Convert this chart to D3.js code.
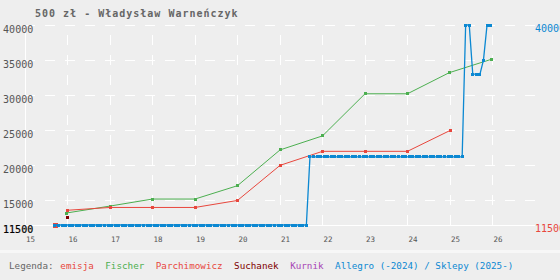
<!DOCTYPE html>
<html>
<head>
<meta charset="utf-8">
<script src="https://cdn.jsdelivr.net/npm/d3@7"></script>
<style>
  html, body { margin: 0; padding: 0; background: #eeeeee; }
  svg { display: block; }
</style>
</head>
<body>
<script>
// ---------- DATA ----------
const titleText = "500 zł - Władysław Warneńczyk";
const yTickValues = [15000, 20000, 25000, 30000, 35000, 40000];
const yMinValue = 11500;
const yMaxValue = 40000;
const xTickYears = [2015, 2016, 2017, 2018, 2019, 2020, 2021, 2022, 2023, 2024, 2025, 2026];

const emisjaDates = ["2015-09-24"];
const emisjaValues = [11500];

const fischerDates = ["2015-12-20", "2017-01-01", "2018-01-01", "2019-01-01", "2020-01-01", "2021-01-01",
                      "2022-01-01", "2023-01-01", "2024-01-01", "2024-12-24", "2025-12-20"];
const fischerValues = [13200, 14200, 15200, 15200, 17100, 22200, 24200, 30200, 30200, 33200, 35100];

const parchimowiczDates = ["2016-01-01", "2017-01-01", "2018-01-01", "2019-01-01", "2020-01-01",
                           "2021-01-01", "2022-01-01", "2023-01-01", "2024-01-01", "2025-01-05"];
const parchimowiczValues = [13600, 14000, 14000, 14000, 15000, 20000, 22000, 22000, 22000, 25000];

const suchanekDates = ["2016-01-05"];
const suchanekValues = [12500];

const kurnikDates = [];
const kurnikValues = [];

const allegroMonths = [
  "2015-09","2015-10","2015-11","2015-12",
  "2016-01","2016-02","2016-03","2016-04","2016-05","2016-06","2016-07","2016-08","2016-09","2016-10","2016-11","2016-12",
  "2017-01","2017-02","2017-03","2017-04","2017-05","2017-06","2017-07","2017-08","2017-09","2017-10","2017-11","2017-12",
  "2018-01","2018-02","2018-03","2018-04","2018-05","2018-06","2018-07","2018-08","2018-09","2018-10","2018-11","2018-12",
  "2019-01","2019-02","2019-03","2019-04","2019-05","2019-06","2019-07","2019-08","2019-09","2019-10","2019-11","2019-12",
  "2020-01","2020-02","2020-03","2020-04","2020-05","2020-06","2020-07","2020-08","2020-09","2020-10","2020-11","2020-12",
  "2021-01","2021-02","2021-03","2021-04","2021-05","2021-06","2021-07","2021-08","2021-09","2021-10","2021-11","2021-12",
  "2022-01","2022-02","2022-03","2022-04","2022-05","2022-06","2022-07","2022-08","2022-09","2022-10","2022-11","2022-12",
  "2023-01","2023-02","2023-03","2023-04","2023-05","2023-06","2023-07","2023-08","2023-09","2023-10","2023-11","2023-12",
  "2024-01","2024-02","2024-03","2024-04","2024-05","2024-06","2024-07","2024-08","2024-09","2024-10","2024-11","2024-12",
  "2025-01","2025-02","2025-03","2025-04","2025-05","2025-06","2025-07","2025-08","2025-09","2025-10","2025-11","2025-12"
];
const allegroValues = [
  11500, 11500, 11500, 11500,
  11500, 11500, 11500, 11500, 11500, 11500, 11500, 11500, 11500, 11500, 11500, 11500,
  11500, 11500, 11500, 11500, 11500, 11500, 11500, 11500, 11500, 11500, 11500, 11500,
  11500, 11500, 11500, 11500, 11500, 11500, 11500, 11500, 11500, 11500, 11500, 11500,
  11500, 11500, 11500, 11500, 11500, 11500, 11500, 11500, 11500, 11500, 11500, 11500,
  11500, 11500, 11500, 11500, 11500, 11500, 11500, 11500, 11500, 11500, 11500, 11500,
  11500, 11500, 11500, 11500, 11500, 11500, 11500, 11500, 21200, 21200, 21200, 21200,
  21200, 21200, 21200, 21200, 21200, 21200, 21200, 21200, 21200, 21200, 21200, 21200,
  21200, 21200, 21200, 21200, 21200, 21200, 21200, 21200, 21200, 21200, 21200, 21200,
  21200, 21200, 21200, 21200, 21200, 21200, 21200, 21200, 21200, 21200, 21200, 21200,
  21200, 21200, 21200, 21200, 40000, 40000, 33000, 33000, 33000, 35000, 40000, 40000
];

const legendLabels = ["emisja", "Fischer", "Parchimowicz", "Suchanek", "Kurnik", "Allegro (-2024) / Sklepy (2025-)"];
const legendColors = ["#e8473d", "#4caf50", "#e8473d", "#800000", "#a845b5", "#0b88d2"];

// ---------- CHART ----------
const W = 560, H = 280;
const plot = { left: 25, right: 535, top: 25, bottom: 225 };
const parseDay = d3.timeParse("%Y-%m-%d");
const parseMonth = s => { const d = d3.timeParse("%Y-%m")(s); return d3.timeDay.offset(d, 14); };

const svg = d3.select("body").append("svg").attr("width", W).attr("height", H);
svg.append("rect").attr("width", W).attr("height", H).attr("fill", "#eeeeee");
svg.append("rect").attr("x", 0).attr("y", 250).attr("width", W).attr("height", 3).attr("fill", "#f7f7f7");

const x = d3.scaleTime()
  .domain([new Date(2015, 0, 1), new Date(2027, 0, 1)])
  .range([plot.left, plot.right]);
const y = d3.scaleLinear().domain([yMinValue, yMaxValue]).range([plot.bottom, plot.top]);

const mono = "'DejaVu Sans Mono', 'Liberation Mono', monospace";

// title
svg.append("text")
  .attr("x", 35).attr("y", 16.7)
  .attr("font-family", mono).attr("font-size", 10).attr("font-weight", "bold")
  .attr("letter-spacing", 1)
  .attr("fill", "#666").text(titleText);

// grid
const grid = svg.append("g").attr("shape-rendering", "crispEdges");
grid.selectAll("line.h").data(yTickValues).enter().append("line")
  .attr("x1", plot.left).attr("x2", plot.right)
  .attr("y1", d => y(d)).attr("y2", d => y(d))
  .attr("stroke", "#fff").attr("stroke-width", 1)
  .attr("stroke-dasharray", "10,10");
const gridYears = xTickYears.slice(1);
grid.selectAll("line.v").data(gridYears).enter().append("line")
  .attr("x1", d => x(new Date(d, 0, 1))).attr("x2", d => x(new Date(d, 0, 1)))
  .attr("y1", plot.top).attr("y2", plot.bottom)
  .attr("stroke", "#fff").attr("stroke-width", 1)
  .attr("stroke-dasharray", "10,10").attr("stroke-dashoffset", 10);
grid.append("line")
  .attr("x1", plot.left).attr("x2", plot.right).attr("y1", y(yMinValue)).attr("y2", y(yMinValue))
  .attr("stroke", "#fff").attr("stroke-width", 1);
grid.append("line")
  .attr("x1", plot.left).attr("x2", plot.left).attr("y1", plot.top).attr("y2", plot.bottom)
  .attr("stroke", "#fff").attr("stroke-width", 1);

// left axis labels
const yAxis = d3.axisLeft(y).tickValues(yTickValues).tickSize(0).tickPadding(0).tickFormat(d3.format("d"));
const yg = svg.append("g").attr("transform", `translate(${plot.left + 8.2},0)`).call(yAxis);
yg.select(".domain").remove();
yg.selectAll("text").attr("font-family", mono).attr("font-size", 10).attr("fill", "#555").attr("dy", "0.75em");
// minimum label (black)
svg.append("text").attr("x", plot.left + 8.2).attr("y", y(yMinValue) + 7.5)
  .attr("text-anchor", "end").attr("font-family", mono).attr("font-size", 10)
  .attr("fill", "#000").attr("stroke", "#000").attr("stroke-width", 0.2).text(yMinValue);

// bottom axis labels
const xAxis = d3.axisBottom(x).tickValues(xTickYears.map(yy => new Date(yy, 0, 1)))
  .tickSize(0).tickFormat(d3.timeFormat("%y"));
const xg = svg.append("g").attr("transform", `translate(0,${plot.bottom})`).call(xAxis);
xg.select(".domain").remove();
xg.selectAll("text").attr("font-family", mono).attr("font-size", 7.5).attr("fill", "#555")
  .attr("text-anchor", "start").attr("x", 0.5).attr("y", 17.3).attr("dy", 0);

// right labels
svg.append("text").attr("x", plot.right).attr("y", y(d3.max(allegroValues)) + 7.3)
  .attr("font-family", mono).attr("font-size", 10).attr("fill", legendColors[5]).text(d3.max(allegroValues));
svg.append("text").attr("x", plot.right).attr("y", y(emisjaValues[0]) + 7.3)
  .attr("font-family", mono).attr("font-size", 10).attr("fill", legendColors[0]).text(emisjaValues[0]);

// series helper
function series(dates, values, parser, color, lw, mw, mh) {
  const pts = dates.map((d, i) => ({ x: x(parser(d)), y: y(values[i]) }));
  const g = svg.append("g");
  if (pts.length > 1) {
    g.append("path").datum(pts)
      .attr("d", d3.line().x(p => p.x).y(p => p.y))
      .attr("fill", "none").attr("stroke", color).attr("stroke-width", lw);
  }
  g.selectAll("rect").data(pts).enter().append("rect")
    .attr("x", p => p.x - mw / 2).attr("y", p => p.y - mh / 2)
    .attr("width", mw).attr("height", mh).attr("fill", color)
    .attr("shape-rendering", "crispEdges");
}

series(fischerDates, fischerValues, parseDay, legendColors[1], 1, 3, 3);
series(parchimowiczDates, parchimowiczValues, parseDay, legendColors[2], 1, 3, 3);
series(suchanekDates, suchanekValues, parseDay, legendColors[3], 1, 3, 3);
series(kurnikDates, kurnikValues, parseDay, legendColors[4], 1, 3, 3);
series(emisjaDates, emisjaValues, parseDay, legendColors[0], 1, 5, 5);
series(allegroMonths, allegroValues, parseMonth, legendColors[5], 1.3, 3, 3);

// legend
const lg = svg.append("g").attr("font-family", mono).attr("font-size", 9.25);
let lx = 9;
const head = lg.append("text").attr("x", lx).attr("y", 269.3).attr("fill", "#666").text("Legenda:");
lx += head.node().getComputedTextLength() + 6.8;
legendLabels.forEach((lab, i) => {
  const t = lg.append("text").attr("x", lx).attr("y", 269.3).attr("fill", legendColors[i]).text(lab);
  lx += t.node().getComputedTextLength() + 11.5;
});
</script>
</body>
</html>
